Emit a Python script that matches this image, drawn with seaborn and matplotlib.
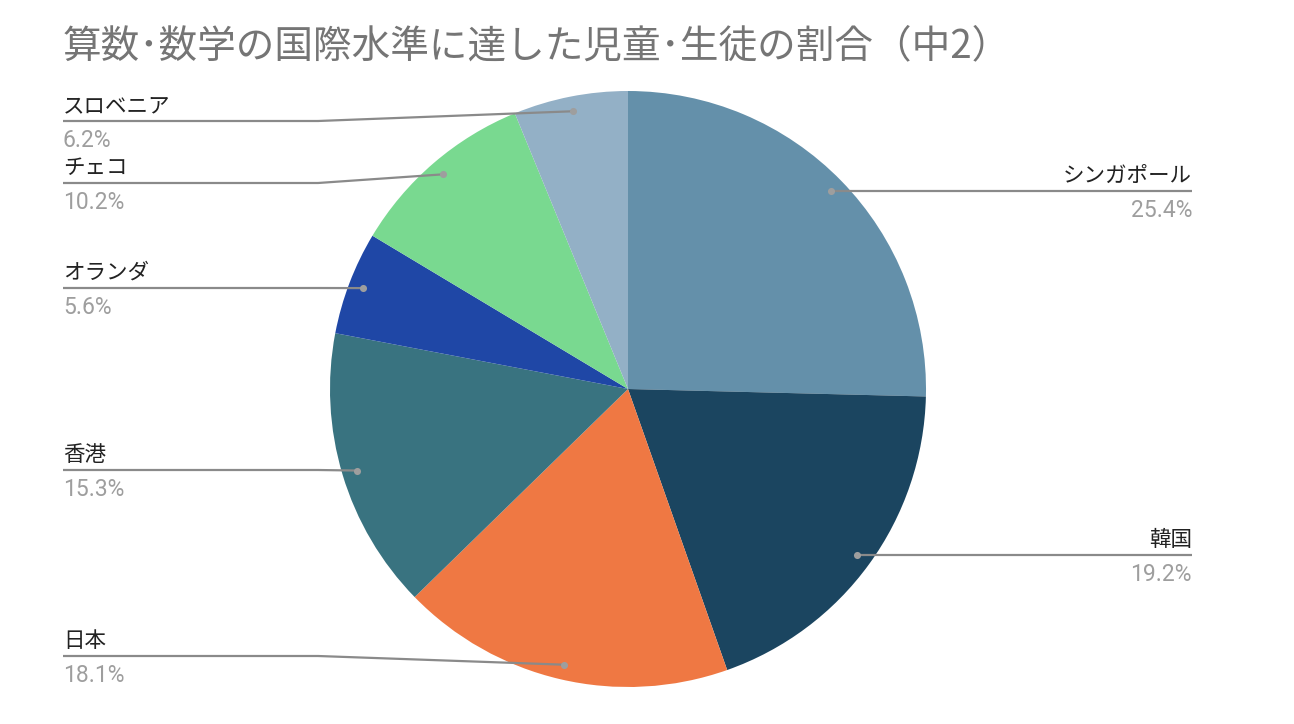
import numpy as np
import matplotlib
matplotlib.use("Agg")
import matplotlib.pyplot as plt
import seaborn as sns

# data (clockwise from 12 o'clock)
countries = ["シンガポール", "韓国", "日本", "香港", "オランダ", "チェコ", "スロベニア"]
shares = [25.4, 19.2, 18.1, 15.3, 5.6, 10.2, 6.2]
pct_labels = ["25.4%", "19.2%", "18.1%", "15.3%", "5.6%", "10.2%", "6.2%"]
title = "算数･数学の国際水準に達した児童･生徒の割合（中2）"

colors = ["#6490aa", "#1b4560", "#ef7843", "#397380", "#1f47a6", "#79d990", "#93b0c6"]

sns.set_theme(style="white")
plt.rcParams["font.family"] = ["Noto Sans CJK JP", "DejaVu Sans"]

W, H = 1294, 724
cx, cy, R = 628, 389, 298

def fy(y):
    return H - y

fig = plt.figure(figsize=(W / 100, H / 100), dpi=100)
ax = fig.add_axes([0, 0, 1, 1])

ax.pie(shares, colors=colors, startangle=90, counterclock=False,
       center=(cx, fy(cy)), radius=R, wedgeprops=dict(linewidth=0))
ax.set_xlim(0, W)
ax.set_ylim(0, H)
ax.set_aspect("equal")
ax.axis("off")

# label layout: side and y of the leader line (pixels)
sides = ["right", "right", "left", "left", "left", "left", "left"]
line_y = [191, 556, 656, 470, 288, 183, 121]

total = sum(shares)
start = 0.0
for name, val, pct, side, ly in zip(countries, shares, pct_labels, sides, line_y):
    mid = (start + val / 2) / total * 2 * np.pi
    start += val
    dx = cx + 0.95 * R * np.sin(mid)
    dy = cy - 0.95 * R * np.cos(mid)
    if side == "right":
        xs = [dx, 1192]
        ys = [fy(dy), fy(dy)]
        tx, ha = 1192, "right"
        ly = dy
    else:
        xs = [dx, 318, 63]
        ys = [fy(dy), fy(ly), fy(ly)]
        tx, ha = 63, "left"
    ax.plot(xs, ys, color="#8a8a8a", lw=1.6, solid_capstyle="butt", zorder=3)
    ax.scatter([dx], [fy(dy)], s=26, color="#9e9e9e", zorder=4, linewidths=0)
    ax.text(tx, fy(ly - 9), name, ha=ha, va="baseline", fontsize=15.5,
            color="#222222")
    ax.text(tx, fy(ly + 26), pct, ha=ha, va="baseline", fontsize=16.5,
            color="#9e9e9e", family=["Roboto", "DejaVu Sans"])

ax.text(63, fy(57), title, ha="left", va="baseline", fontsize=27.8, color="#757575")

fig.savefig("out.png", dpi=100)
